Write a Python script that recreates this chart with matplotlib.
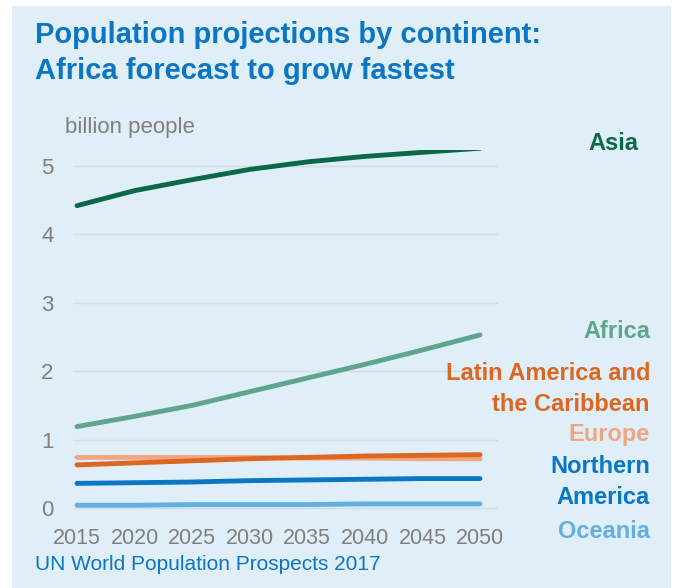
import matplotlib.pyplot as plt
from matplotlib.patches import Rectangle

plt.rcParams['font.family'] = ['Liberation Sans', 'DejaVu Sans']

years = [2015, 2020, 2025, 2030, 2035, 2040, 2045, 2050]
asia = [4.42, 4.64, 4.80, 4.95, 5.06, 5.14, 5.20, 5.26]
africa = [1.19, 1.34, 1.50, 1.70, 1.90, 2.10, 2.31, 2.53]
latam = [0.63, 0.66, 0.69, 0.72, 0.74, 0.76, 0.77, 0.78]
europe = [0.74, 0.74, 0.74, 0.74, 0.73, 0.73, 0.72, 0.72]
namerica = [0.36, 0.37, 0.38, 0.40, 0.41, 0.42, 0.43, 0.43]
oceania = [0.04, 0.04, 0.05, 0.05, 0.05, 0.06, 0.06, 0.06]

series = [
    ('Europe', europe, '#f0a680'),
    ('Latin America and\nthe Caribbean', latam, '#dd6620'),
    ('Oceania', oceania, '#63b0e0'),
    ('Northern\nAmerica', namerica, '#0b77c4'),
    ('Africa', africa, '#5fa58e'),
    ('Asia', asia, '#0b6848'),
]

W, H = 675, 588
fig = plt.figure(figsize=(W / 100, H / 100), dpi=100)
fig.patch.set_facecolor('white')
fig.patches.append(Rectangle((12 / W, 0), 659 / W, 582 / H, transform=fig.transFigure,
                             facecolor='#e0eef8', edgecolor='none', zorder=-1))

# axes: x 2015->77px, 2050->480px ; y 0->508px, 5->166px
x0, x1 = 73, 498
y0, y1 = 525, 150
ax = fig.add_axes([x0 / W, 1 - y0 / H, (x1 - x0) / W, (y0 - y1) / H])
ax.set_facecolor('none')
px_per_year = (480 - 77) / 35
ax.set_xlim(2015 - (77 - x0) / px_per_year, 2050 + (x1 - 480) / px_per_year)
px_per_unit = (508 - 166) / 5
ax.set_ylim(-(y0 - 508) / px_per_unit, 5 + (166 - y1) / px_per_unit)

for name, vals, col in series:
    ax.plot(years, vals, color=col, lw=3.5, solid_capstyle='round')

ax.set_yticks([0, 1, 2, 3, 4, 5])
ax.set_xticks(years)
ax.grid(axis='y', color='#d0dde6', lw=1)
ax.set_axisbelow(True)
for s in ax.spines.values():
    s.set_visible(False)
ax.tick_params(length=0, labelsize=16, labelcolor='#7f7f7f')
ax.tick_params(axis='y', pad=14)
ax.tick_params(axis='x', pad=2)
for lab in ax.get_xticklabels():
    lab.set_fontsize(15.5)

fig.text(35 / W, 1 - 53 / H, 'Population projections by continent:\nAfrica forecast to grow fastest',
         fontsize=21, fontweight='bold', color='#0b77c4', va='center', linespacing=1.38)
fig.text(65 / W, 1 - 127 / H, 'billion people', fontsize=16, color='#7f7f7f', va='center')
fig.text(35 / W, 1 - 564 / H, 'UN World Population Prospects 2017', fontsize=15,
         color='#0b77c4', va='center')

labels = [
    ('Asia', 638, 143, '#0b6848'),
    ('Africa', 650, 332, '#5fa58e'),
    ('Latin America and\nthe Caribbean', 650, 389, '#dd6620'),
    ('Europe', 650, 435, '#f0a680'),
    ('Northern\nAmerica', 650, 482, '#0b77c4'),
    ('Oceania', 650, 532, '#63b0e0'),
]
for txt, xpx, ypx, col in labels:
    fig.text(xpx / W, 1 - ypx / H, txt, fontsize=17, fontweight='bold', color=col,
             ha='right', va='center', multialignment='right', linespacing=1.45)

plt.savefig('out.png', dpi=100)
